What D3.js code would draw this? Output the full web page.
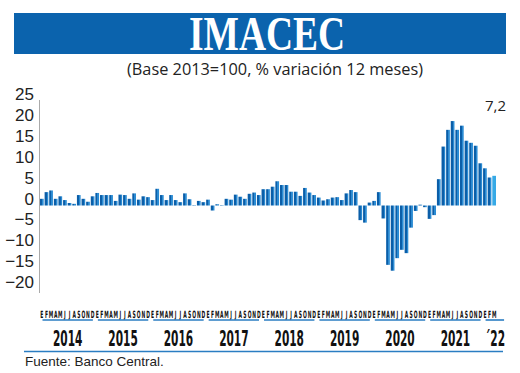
<!DOCTYPE html>
<html>
<head>
<meta charset="utf-8">
<script src="https://cdn.jsdelivr.net/npm/d3@7"></script>
<style>
  html, body { margin: 0; padding: 0; background: #fff; }
  svg { display: block; }
</style>
</head>
<body>
<div id="chart"></div>
<script>
(function() {
  'use strict';

  // monthly IMACEC, % change vs same month of previous year
  const months = ['E', 'F', 'M', 'A', 'M', 'J', 'J', 'A', 'S', 'O', 'N', 'D'];
  const years = ['2014', '2015', '2016', '2017', '2018', '2019', '2020', '2021', '\u00b422'];
  const values2014 = [1.6, 3.2, 3.6, 1.6, 2.2, 1.3, 0.6, 0.4, 2.5, 1.6, 0.9, 2.2];
  const values2015 = [3.0, 2.5, 2.5, 2.5, 1.1, 2.6, 2.5, 1.6, 2.9, 1.4, 2.2, 2.0];
  const values2016 = [1.3, 4.0, 2.5, 1.3, 2.5, 1.3, 0.8, 2.9, 1.5, -0.1, 1.1, 0.8];
  const values2017 = [1.4, -1.2, 0.3, 0.1, 1.6, 1.4, 2.6, 2.1, 1.6, 2.8, 3.1, 2.5];
  const values2018 = [3.9, 3.9, 4.5, 5.8, 4.9, 4.9, 3.3, 3.3, 2.3, 4.2, 3.1, 2.5];
  const values2019 = [1.9, 1.2, 1.5, 1.9, 2.0, 1.3, 2.9, 3.7, 3.2, -3.5, -4.1, 0.7];
  const values2020 = [1.1, 3.2, -3.1, -14.2, -15.6, -12.6, -10.6, -11.4, -5.3, -1.3, 0.2, -0.4];
  const values2021 = [-3.2, -2.3, 6.3, 14.1, 18.1, 20.2, 18.1, 19.1, 15.5, 15.0, 14.3, 10.1];
  const values2022 = [8.9, 6.7, 7.1];
  const yTicks = [25, 20, 15, 10, 5, 0, -5, -10, -15, -20];
  const lastLabel = '7,2';

  const series = [values2014, values2015, values2016, values2017, values2018,
    values2019, values2020, values2021, values2022];

  const data = [];
  series.forEach((vals, yi) => {
    vals.forEach((v, mi) => {
      data.push({ i: data.length, year: yi, month: months[mi], value: v });
    });
  });

  const w = 520;
  const h = 373;
  const blue = '#0b63ad';

  const svg = d3.select('#chart')
    .append('svg')
    .attr('width', w)
    .attr('height', h);

  const defs = svg.append('defs');
  const grad = defs.append('linearGradient')
    .attr('id', 'barGrad')
    .attr('x1', 0).attr('x2', 1).attr('y1', 0).attr('y2', 0);
  grad.append('stop').attr('offset', '0%').attr('stop-color', '#0b5ea8');
  grad.append('stop').attr('offset', '55%').attr('stop-color', '#0b5ea8');
  grad.append('stop').attr('offset', '56%').attr('stop-color', '#2a8bd3');
  grad.append('stop').attr('offset', '100%').attr('stop-color', '#2a8bd3');

  // title banner
  svg.append('rect')
    .attr('x', 14)
    .attr('y', 13)
    .attr('width', 492)
    .attr('height', 41)
    .attr('fill', blue);
  svg.append('text')
    .attr('x', 267)
    .attr('y', 50)
    .attr('text-anchor', 'middle')
    .attr('textLength', 156)
    .attr('lengthAdjust', 'spacingAndGlyphs')
    .style('font-family', '"Liberation Serif", "DejaVu Serif", serif')
    .style('font-weight', 'bold')
    .style('font-size', '48px')
    .style('fill', '#fff')
    .text('IMACEC');
  svg.append('text')
    .attr('x', 275)
    .attr('y', 75)
    .attr('text-anchor', 'middle')
    .attr('textLength', 296)
    .attr('lengthAdjust', 'spacingAndGlyphs')
    .style('font-family', '"Liberation Sans Narrow", "Open Sans", sans-serif')
    .style('font-size', '17px')
    .style('fill', '#222')
    .text('(Base 2013=100, % variaci\u00f3n 12 meses)');

  // scales
  const xScale = d3.scaleBand()
    .domain(data.map((d) => d.i))
    .range([40, 496])
    .paddingInner(0.2)
    .paddingOuter(0);

  const yScale = d3.scaleLinear()
    .domain([-20, 25])
    .range([289.1, 101]);

  // y axis: labels only, plus a plain grey rule
  const yAxis = d3.axisLeft(yScale)
    .tickValues(yTicks)
    .tickSize(0)
    .tickPadding(0)
    .tickFormat(d3.format('d'));
  const gy = svg.append('g')
    .attr('id', 'y-axis')
    .attr('transform', 'translate(34,0)')
    .call(yAxis);
  gy.select('.domain').remove();
  gy.selectAll('text')
    .attr('dy', '-1.5')
    .style('font-family', '"Liberation Sans", Arial, sans-serif')
    .style('font-size', '17px')
    .style('fill', '#222');

  svg.append('line')
    .attr('x1', 39.5).attr('x2', 39.5)
    .attr('y1', 100).attr('y2', 293)
    .attr('stroke', '#aaa')
    .attr('stroke-width', 1);

  // bars
  svg.selectAll('rect.bar')
    .data(data)
    .enter()
    .append('rect')
    .attr('class', 'bar')
    .attr('x', (d) => xScale(d.i))
    .attr('width', xScale.bandwidth())
    .attr('y', (d) => yScale(Math.max(0, d.value)))
    .attr('height', (d) => Math.abs(yScale(d.value) - yScale(0)))
    .attr('fill', (d) => d.i === data.length - 1 ? '#36a9e6' : 'url(#barGrad)');

  const last = data[data.length - 1];
  svg.append('text')
    .attr('x', xScale(last.i) + xScale.bandwidth() + 10)
    .attr('y', 111)
    .attr('text-anchor', 'end')
    .style('font-family', '"Open Sans", "Liberation Sans", sans-serif')
    .style('font-size', '15px')
    .style('fill', '#222')
    .text(lastLabel);

  // month initials
  const step = xScale.step();
  svg.selectAll('text.month')
    .data(data)
    .enter()
    .append('text')
    .attr('class', 'month')
    .attr('text-anchor', 'middle')
    .attr('transform', (d) =>
      'translate(' + (xScale(d.i) + xScale.bandwidth() / 2) + ',318) scale(0.5,1)')
    .style('font-family', '"Liberation Sans Narrow", "DejaVu Sans Condensed", sans-serif')
    .style('font-weight', 'bold')
    .style('font-size', '10px')
    .style('fill', '#111')
    .text((d) => d.month);

  // year underlines and labels
  const yearInfo = series.map((vals, yi) => {
    const first = data.find((d) => d.year === yi);
    const x0 = xScale(first.i);
    const x1 = x0 + vals.length * step;
    return { label: years[yi], x0: x0, x1: x1, n: vals.length };
  });

  svg.selectAll('line.year')
    .data(yearInfo)
    .enter()
    .append('line')
    .attr('class', 'year')
    .attr('x1', (d) => d.x0 + 2.5)
    .attr('x2', (d) => d.n < 12 ? d.x0 + 21 : d.x1 - 2.5)
    .attr('y1', 320).attr('y2', 320)
    .attr('stroke', '#2a7dc2')
    .attr('stroke-width', 1.6);

  svg.selectAll('text.year')
    .data(yearInfo)
    .enter()
    .append('text')
    .attr('class', 'year')
    .attr('text-anchor', 'middle')
    .attr('transform', (d) => {
      const cx = d.n < 12 ? d.x0 + 12 : (d.x0 + d.x1) / 2;
      return 'translate(' + cx + ',346) scale(0.56,1)';
    })
    .style('font-family', '"Liberation Sans Narrow", "DejaVu Sans Condensed", sans-serif')
    .style('font-weight', 'bold')
    .style('font-size', '21px')
    .style('fill', '#111')
    .text((d) => d.label);

  svg.append('line')
    .attr('x1', 24).attr('x2', 503)
    .attr('y1', 351.5).attr('y2', 351.5)
    .attr('stroke', '#2a7dc2')
    .attr('stroke-width', 1.6);

  svg.append('text')
    .attr('x', 25)
    .attr('y', 366)
    .style('font-family', '"Liberation Sans", Arial, sans-serif')
    .style('font-size', '13.5px')
    .style('fill', '#222')
    .text('Fuente: Banco Central.');
}());
</script>
</body>
</html>
